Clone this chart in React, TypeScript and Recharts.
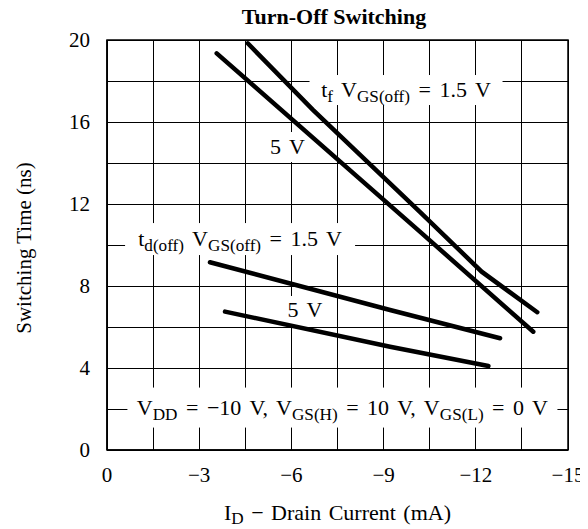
import React from 'react';
import {
  ComposedChart,
  Line,
  XAxis,
  YAxis,
  CartesianGrid,
  ReferenceDot,
  ReferenceArea,
} from 'recharts';

const SERIF = "'Liberation Serif', 'Times New Roman', serif";

// axis ticks (grid every 1.5 mA / 2 ns, labels every 3 mA / 4 ns)
const xTicks = [0, -1.5, -3, -4.5, -6, -7.5, -9, -10.5, -12, -13.5, -15];
const yTicks = [0, 2, 4, 6, 8, 10, 12, 14, 16, 18, 20];

// curves (x = I_D mA, y = ns)
const tfVgs15 = [
  { x: -4.58, y: 19.84 },
  { x: -6.7, y: 16.59 },
  { x: -10.18, y: 11.62 },
  { x: -12.19, y: 8.7 },
  { x: -14.0, y: 6.72 },
];
const tfVgs5 = [
  { x: -3.57, y: 19.35 },
  { x: -10.18, y: 10.65 },
  { x: -13.87, y: 5.77 },
];
const tdVgs15 = [
  { x: -3.35, y: 9.16 },
  { x: -9.21, y: 6.83 },
  { x: -12.79, y: 5.45 },
];
const tdVgs5 = [
  { x: -3.84, y: 6.75 },
  { x: -9.21, y: 5.04 },
  { x: -12.41, y: 4.1 },
];

// [text, isSubscript]
type Part = [string, boolean];

const annotations: { id: string; x: number; y: number; parts: Part[] }[] = [
  {
    id: 'tf15',
    x: -9.73,
    y: 17.56,
    parts: [['t', false], ['f', true], [' V', false], ['GS(off)', true], [' = 1.5 V', false]],
  },
  { id: 'tf5', x: -5.87, y: 14.78, parts: [['5 V', false]] },
  {
    id: 'td15',
    x: -4.33,
    y: 10.29,
    parts: [['t', false], ['d(off)', true], [' V', false], ['GS(off)', true], [' = 1.5 V', false]],
  },
  { id: 'td5', x: -6.44, y: 6.83, parts: [['5 V', false]] },
  {
    id: 'cond',
    x: -7.66,
    y: 2.07,
    parts: [
      ['V', false],
      ['DD', true],
      [' = \u221210 V, V', false],
      ['GS(H)', true],
      [' = 10 V, V', false],
      ['GS(L)', true],
      [' = 0 V', false],
    ],
  },
];

// white label boxes, px
const boxSize: Record<string, [number, number]> = {
  tf15: [193, 30],
  tf5: [52, 30],
  td15: [230, 32],
  td5: [56, 28],
  cond: [430, 40],
};

function RichText({
  parts,
  x,
  y,
  size = 22,
  spacing = 3,
  subShift = 5,
}: {
  parts: Part[];
  x: number;
  y: number;
  size?: number;
  spacing?: number;
  subShift?: number;
}) {
  let shift = 0;
  return (
    <text
      x={x}
      y={y}
      textAnchor="middle"
      fontFamily={SERIF}
      fontSize={size}
      fill="#000"
      style={{ whiteSpace: 'pre', wordSpacing: spacing }}
    >
      {parts.map(([t, sub], i) => {
        const target = sub ? subShift : 0;
        const dy = target - shift;
        shift = target;
        return (
          <tspan key={i} dy={dy} fontSize={sub ? size * 0.78 : size}>
            {t}
          </tspan>
        );
      })}
    </text>
  );
}

const fmtX = (v: number) => {
  if (Math.abs(v) % 3 !== 0) return '';
  return v === 0 ? '0' : '\u2212' + Math.abs(v);
};
const fmtY = (v: number) => (v % 4 === 0 ? String(v) : '');

export default function App() {
  const series = [tfVgs15, tfVgs5, tdVgs15, tdVgs5];

  return (
    <div style={{ position: 'relative', width: 580, height: 521 }}>
      <style>{'body{overflow:hidden}'}</style>
      <div
        style={{
          position: 'absolute',
          top: -2,
          left: 176,
          width: 300,
          textAlign: 'center',
          fontFamily: SERIF,
          fontWeight: 'bold',
          fontSize: 22,
          lineHeight: '22px',
        }}
      >
        Turn-Off Switching
      </div>
      <ComposedChart
        width={580}
        height={521}
        margin={{ top: 32, right: 20, bottom: 0, left: 0 }}
        style={{ overflow: 'visible' }}
      >
        <CartesianGrid stroke="#000" strokeWidth={1} shapeRendering="crispEdges" />
        <XAxis
          type="number"
          dataKey="x"
          domain={[-15, 0]}
          reversed
          ticks={xTicks}
          interval={0}
          tickFormatter={fmtX}
          tickLine={false}
          tickSize={0}
          tickMargin={17}
          axisLine={{ stroke: '#000', strokeWidth: 1.5 }}
          height={79}
          tick={{ fill: '#000', fontSize: 21, fontFamily: SERIF }}
          label={{
            content: (p: any) => {
              const vb = p.viewBox;
              return (
                <RichText
                  x={vb.x + vb.width / 2}
                  y={vb.y + 70}
                  size={22}
                  spacing={2}
                  subShift={4}
                  parts={[['I', false], ['D', true], [' \u2212 Drain Current (mA)', false]]}
                />
              );
            },
          }}
        />
        <YAxis
          type="number"
          domain={[0, 20]}
          ticks={yTicks}
          interval={0}
          tickFormatter={fmtY}
          tickLine={false}
          tickSize={0}
          tickMargin={17}
          width={99}
          axisLine={{ stroke: '#000', strokeWidth: 1.5 }}
          tick={{ fill: '#000', fontSize: 21, fontFamily: SERIF }}
          label={{
            content: (p: any) => {
              const vb = p.viewBox;
              const cx = vb.x + 16;
              const cy = vb.y + vb.height / 2 + 3;
              return (
                <text
                  x={cx}
                  y={cy}
                  transform={`rotate(-90, ${cx}, ${cy})`}
                  textAnchor="middle"
                  dominantBaseline="central"
                  fontFamily={SERIF}
                  fontSize={21}
                  fill="#000"
                >
                  Switching Time (ns)
                </text>
              );
            },
          }}
        />
        <ReferenceArea
          x1={0}
          x2={-15}
          y1={0}
          y2={20}
          fill="none"
          stroke="#000"
          strokeWidth={1.5}
          ifOverflow="visible"
          zIndex={-60}
        />
        {annotations.map((a) => (
          <ReferenceDot
            key={a.id}
            x={a.x}
            y={a.y}
            r={0}
            ifOverflow="visible"
            zIndex={-50}
            shape={(p: any) => {
              const [w, h] = boxSize[a.id];
              return (
                <g>
                  <rect x={p.cx - w / 2} y={p.cy - h / 2} width={w} height={h} fill="#fff" />
                  <RichText x={p.cx} y={p.cy + 7} parts={a.parts} />
                </g>
              );
            }}
          />
        ))}
        {series.map((d, i) => (
          <Line
            key={i}
            data={d}
            dataKey="y"
            type="linear"
            stroke="#000"
            strokeWidth={4.5}
            strokeLinecap="round"
            dot={false}
            activeDot={false}
            isAnimationActive={false}
          />
        ))}
      </ComposedChart>
    </div>
  );
}
